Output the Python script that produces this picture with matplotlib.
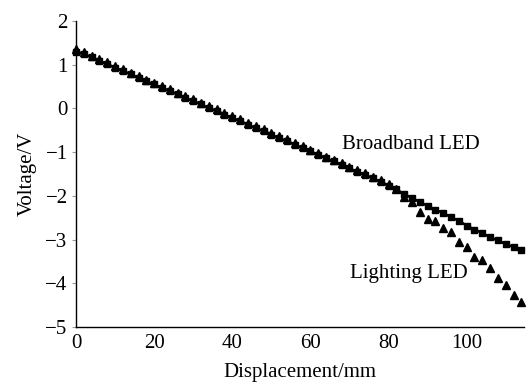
import matplotlib
matplotlib.use('Agg')
import matplotlib.pyplot as plt

# displacement in mm, one reading every 2 mm
displacement = [0, 2, 4, 6, 8, 10, 12, 14, 16, 18, 20, 22, 24, 26, 28, 30, 32, 34, 36, 38,
                40, 42, 44, 46, 48, 50, 52, 54, 56, 58, 60, 62, 64, 66, 68, 70, 72, 74, 76, 78,
                80, 82, 84, 86, 88, 90, 92, 94, 96, 98, 100, 102, 104, 106, 108, 110, 112, 114]

broadband_v = [1.30, 1.24, 1.17, 1.09, 1.01, 0.93, 0.86, 0.78, 0.70, 0.62,
               0.55, 0.47, 0.40, 0.32, 0.24, 0.17, 0.09, 0.01, -0.06, -0.14,
               -0.22, -0.29, -0.37, -0.45, -0.52, -0.60, -0.68, -0.75, -0.83, -0.91,
               -0.98, -1.06, -1.14, -1.21, -1.29, -1.37, -1.45, -1.52, -1.60, -1.68,
               -1.77, -1.85, -1.96, -2.05, -2.14, -2.23, -2.32, -2.39, -2.49, -2.57,
               -2.68, -2.77, -2.85, -2.95, -3.02, -3.10, -3.17, -3.23]

lighting_v = [1.35, 1.28, 1.21, 1.13, 1.06, 0.97, 0.90, 0.82, 0.75, 0.66,
              0.59, 0.51, 0.44, 0.36, 0.28, 0.21, 0.13, 0.05, -0.02, -0.10,
              -0.18, -0.25, -0.33, -0.41, -0.48, -0.56, -0.64, -0.71, -0.79, -0.87,
              -0.94, -1.02, -1.10, -1.17, -1.25, -1.33, -1.41, -1.48, -1.56, -1.64,
              -1.73, -1.84, -2.02, -2.15, -2.36, -2.53, -2.57, -2.74, -2.83, -3.05,
              -3.17, -3.39, -3.46, -3.65, -3.89, -4.05, -4.26, -4.42]

x_ticks = [0, 20, 40, 60, 80, 100]
y_ticks = [-5, -4, -3, -2, -1, 0, 1, 2]

plt.rcParams['font.family'] = ['Liberation Serif', 'DejaVu Serif']
plt.rcParams['font.size'] = 15

fig = plt.figure(figsize=(5.29, 3.85), dpi=100)
ax = fig.add_axes([0.1437, 0.1506, 0.8463, 0.7949])

ax.plot(displacement, broadband_v, color='black', linewidth=1.8,
        marker='s', markersize=4.2, clip_on=False, zorder=2)
ax.plot(displacement, lighting_v, linestyle='none', color='black',
        marker='^', markersize=6, clip_on=False, zorder=3)

ax.text(68, -0.82, 'Broadband LED', ha='left', va='center', fontsize=15)
ax.text(100.3, -3.77, 'Lighting LED', ha='right', va='center', fontsize=15)

ax.set_xlim(0, 114.6)
ax.set_ylim(-5, 2)
ax.set_xticks(x_ticks)
ax.set_yticks(y_ticks)
ax.set_xlabel('Displacement/mm', fontsize=15, labelpad=7)
ax.set_ylabel('Voltage/V', fontsize=15, labelpad=6)

ax.spines['top'].set_visible(False)
ax.spines['right'].set_visible(False)
ax.spines['left'].set_linewidth(1.0)
ax.spines['bottom'].set_linewidth(1.0)
ax.tick_params(axis='x', length=0, pad=5)
ax.tick_params(axis='y', length=3, color='#999999', pad=3)

fig.savefig('out.png', dpi=100)
